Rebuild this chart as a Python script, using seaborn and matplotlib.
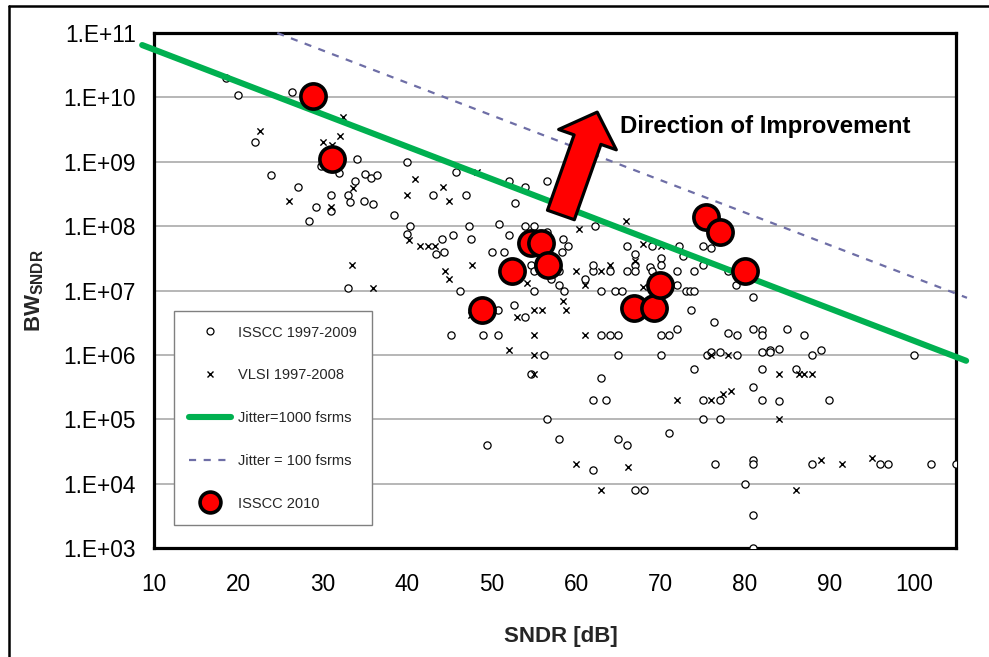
import numpy as np
import pandas as pd
import matplotlib
matplotlib.use("Agg")
import matplotlib.pyplot as plt
import seaborn as sns
from matplotlib.lines import Line2D
from matplotlib.ticker import FixedLocator, FuncFormatter, NullLocator

# ---------------- data ----------------
isscc_sndr = [18.5, 20.0, 26.4, 22.0, 34.0, 29.8, 31.9, 23.8, 35.0, 35.7, 36.4, 33.8, 27.0, 33.0, 31.0,
              33.2, 34.9, 36.0, 29.2, 31.0, 28.4, 38.4, 40.0, 40.3, 40.0, 33.0, 43.0, 46.9, 45.8, 43.4,
              44.1, 44.3, 45.4, 46.3, 47.3, 47.5, 50.0, 50.9, 50.8, 45.2, 49.0, 50.8, 49.4, 52.0, 54.0,
              56.5, 52.8, 54.0, 55.0, 52.0, 56.5, 58.4, 59.0, 58.3, 51.4, 62.2, 54.6, 55.0, 57.0, 58.0,
              58.6, 58.0, 55.0, 61.0, 62.0, 64.0, 62.0, 63.0, 64.6, 65.4, 66.0, 67.0, 67.0, 66.0, 67.0,
              69.0, 68.8, 69.0, 70.0, 70.0, 72.0, 72.0, 72.2, 72.7, 73.0, 73.5, 74.0, 74.0, 75.0, 75.0,
              76.0, 78.9, 81.0, 78.0, 73.6, 76.3, 52.6, 54.0, 72.0, 70.0, 71.0, 78.0, 79.0, 81.0, 82.0,
              82.0, 85.0, 87.0, 75.5, 76.0, 77.0, 79.0, 82.0, 83.0, 83.0, 84.0, 88.0, 89.0, 100.0, 74.0,
              82.0, 86.0, 81.0, 75.0, 77.0, 82.0, 84.0, 90.0, 75.0, 77.0, 76.5, 81.0, 81.0, 88.0, 96.0,
              97.0, 102.0, 105.0, 80.0, 81.0, 81.0, 56.2, 54.6, 63.0, 64.0, 65.0, 65.0, 70.0, 63.0, 62.0,
              63.5, 56.5, 71.0, 58.0, 65.0, 66.0, 62.0, 67.0, 68.0]
isscc_bw = [2.0e10, 1.1e10, 1.2e10, 2.0e9, 1.1e9, 8.5e8, 6.6e8, 6.3e8, 6.5e8, 5.5e8, 6.3e8, 5.0e8, 4.0e8, 3.0e8, 3.0e8,
            2.4e8, 2.5e8, 2.2e8, 2.0e8, 1.7e8, 1.2e8, 1.5e8, 1.0e9, 1.0e8, 7.5e7, 1.1e7, 3.0e8, 3.0e8, 7.0e8, 3.7e7,
            6.2e7, 4.0e7, 7.4e7, 1.0e7, 1.0e8, 6.2e7, 3.9e7, 1.07e8, 5.0e6, 2.0e6, 2.0e6, 2.0e6, 4.0e4, 5.0e8, 4.0e8,
            5.0e8, 2.3e8, 1.0e8, 1.0e8, 7.4e7, 8.0e7, 6.3e7, 5.0e7, 4.0e7, 4.0e7, 1.0e8, 2.5e7, 2.0e7, 1.5e7, 1.2e7,
            1.0e7, 2.0e7, 1.0e7, 1.5e7, 2.0e7, 2.0e7, 2.5e7, 1.0e7, 1.0e7, 1.0e7, 5.0e7, 3.7e7, 2.5e7, 2.0e7, 2.0e7,
            5.0e7, 2.3e7, 2.0e7, 3.2e7, 2.5e7, 2.0e7, 1.2e7, 5.0e7, 3.4e7, 1.0e7, 1.0e7, 1.0e7, 2.0e7, 2.5e7, 5.0e7,
            4.5e7, 1.2e7, 8.0e6, 2.0e7, 5.0e6, 3.2e6, 5.9e6, 3.9e6, 2.5e6, 2.0e6, 2.0e6, 2.2e6, 2.0e6, 2.5e6, 2.4e6,
            2.0e6, 2.5e6, 2.0e6, 1.0e6, 1.1e6, 1.1e6, 1.0e6, 1.1e6, 1.2e6, 1.1e6, 1.25e6, 1.0e6, 1.2e6, 1.0e6, 6.0e5,
            6.0e5, 6.0e5, 3.2e5, 2.0e5, 2.0e5, 2.0e5, 1.9e5, 2.0e5, 1.0e5, 1.0e5, 2.0e4, 2.35e4, 2.0e4, 2.0e4, 2.0e4,
            2.0e4, 2.0e4, 2.0e4, 1.0e4, 3.2e3, 1.0e3, 1.0e6, 5.0e5, 2.0e6, 2.0e6, 2.0e6, 1.0e6, 1.0e6, 4.3e5, 2.0e5,
            2.0e5, 1.0e5, 6.2e4, 5.0e4, 5.0e4, 4.0e4, 1.6e4, 8.0e3, 8.0e3]

vlsi_sndr = [32.4, 22.5, 32.0, 30.0, 31.1, 33.6, 26.0, 31.0, 40.9, 40.0, 40.2, 41.5, 42.4, 43.3, 33.5,
             36.0, 44.2, 45.0, 48.3, 44.5, 45.0, 47.7, 47.5, 60.4, 65.9, 54.2, 60.0, 61.0, 63.0, 64.0,
             67.0, 67.9, 70.0, 67.9, 58.5, 58.8, 53.0, 55.0, 56.0, 55.0, 52.0, 55.0, 55.0, 61.0, 72.0,
             60.0, 66.1, 63.0, 76.0, 78.0, 84.0, 86.4, 87.0, 88.0, 77.4, 78.4, 76.0, 84.0, 89.0, 91.5,
             95.0, 86.0]
vlsi_bw = [5.0e9, 3.0e9, 2.5e9, 2.0e9, 1.8e9, 3.9e8, 2.5e8, 2.0e8, 5.4e8, 3.0e8, 6.0e7, 5.0e7, 5.0e7, 5.0e7, 2.5e7,
           1.1e7, 4.0e8, 2.5e8, 7.0e8, 2.0e7, 1.5e7, 2.5e7, 4.2e6, 9.0e7, 1.2e8, 1.3e7, 2.0e7, 1.2e7, 2.0e7, 2.5e7,
           2.9e7, 5.2e7, 5.0e7, 1.15e7, 6.9e6, 5.0e6, 3.9e6, 5.0e6, 5.0e6, 2.0e6, 1.2e6, 1.0e6, 5.0e5, 2.0e6, 2.0e5,
           2.0e4, 1.8e4, 8.0e3, 1.0e6, 1.0e6, 5.0e5, 5.0e5, 5.0e5, 5.0e5, 2.5e5, 2.7e5, 2.0e5, 1.0e5, 2.35e4, 2.0e4,
           2.5e4, 8.0e3]

isscc2010_sndr = [28.8, 31.1, 48.8, 52.4, 54.6, 55.8, 56.7, 66.8, 69.2, 69.9, 75.4, 77.0, 80.0]
isscc2010_bw = [1.05e10, 1.1e9, 5.0e6, 2.0e7, 5.4e7, 5.5e7, 2.5e7, 5.4e6, 5.4e6, 1.2e7, 1.4e8, 8.0e7, 2.0e7]

jitter1000_sndr = [8.6, 106.2]
jitter1000_bw = [6.5e10, 8.1e5]
jitter100_sndr = [24.6, 106.3]
jitter100_bw = [1.0e11, 7.7e6]

x_ticks = [10, 20, 30, 40, 50, 60, 70, 80, 90, 100]
y_ticks = [1e3, 1e4, 1e5, 1e6, 1e7, 1e8, 1e9, 1e10, 1e11]

labels = ["ISSCC 1997-2009", "VLSI 1997-2008", "Jitter=1000 fsrms", "Jitter = 100 fsrms", "ISSCC 2010"]

# ---------------- style ----------------
sns.set_style("white")
plt.rcParams["font.family"] = ["Liberation Sans", "DejaVu Sans"]
plt.rcParams["mathtext.fontset"] = "custom"
plt.rcParams["mathtext.bf"] = "Liberation Sans:bold"
plt.rcParams["mathtext.rm"] = "Liberation Sans"

W, H = 989, 657
fig = plt.figure(figsize=(W / 100, H / 100), dpi=100)
ax = fig.add_axes([154 / W, 1 - 548 / H, 802 / W, 515 / H])

df_isscc = pd.DataFrame({"sndr": isscc_sndr, "bw": isscc_bw})
df_vlsi = pd.DataFrame({"sndr": vlsi_sndr, "bw": vlsi_bw})
df_new = pd.DataFrame({"sndr": isscc2010_sndr, "bw": isscc2010_bw})
df_j1000 = pd.DataFrame({"sndr": jitter1000_sndr, "bw": jitter1000_bw})
df_j100 = pd.DataFrame({"sndr": jitter100_sndr, "bw": jitter100_bw})

green = "#00b050"
dash_col = "#6e6ea6"

sns.scatterplot(data=df_isscc, x="sndr", y="bw", marker="o", s=27, color="white",
                edgecolor="black", linewidth=0.9, ax=ax, zorder=3, legend=False)
sns.scatterplot(data=df_vlsi, x="sndr", y="bw", marker="x", s=20, color="black",
                linewidth=1.0, ax=ax, zorder=3, legend=False)
sns.lineplot(data=df_j1000, x="sndr", y="bw", color=green, linewidth=4.4, ax=ax,
             zorder=4, legend=False, estimator=None, sort=False)
ax.lines[-1].set_clip_on(False)
sns.lineplot(data=df_j100, x="sndr", y="bw", color=dash_col, linewidth=1.6, ax=ax,
             zorder=4, legend=False, estimator=None, sort=False)
ax.lines[-1].set_dashes((3.2, 3.4))
ax.lines[-1].set_clip_on(False)
sns.scatterplot(data=df_new, x="sndr", y="bw", marker="o", s=330, color="#ff0000",
                edgecolor="black", linewidth=2.6, ax=ax, zorder=6, legend=False)

# ---------------- axes ----------------
ax.set_yscale("log")
ax.set_xlim(10, 105)
ax.set_ylim(1e3, 1e11)
ax.xaxis.set_major_locator(FixedLocator(x_ticks))
ax.yaxis.set_major_locator(FixedLocator(y_ticks))
ax.yaxis.set_minor_locator(NullLocator())
ax.xaxis.set_minor_locator(NullLocator())
ax.yaxis.set_major_formatter(FuncFormatter(lambda v, p: "1.E+%02d" % int(round(np.log10(v)))))
ax.xaxis.set_major_formatter(FuncFormatter(lambda v, p: "%d" % v))
ax.tick_params(axis="both", which="major", direction="out", length=5.5, width=1.3,
               color="black", labelsize=16.3, labelcolor="black")
ax.tick_params(axis="y", pad=7.5)
ax.tick_params(axis="x", pad=12.5)
ax.grid(False)
ax.yaxis.grid(True, color="#a3a3a3", linewidth=1.1)
ax.set_axisbelow(True)
for sp in ax.spines.values():
    sp.set_color("black")
    sp.set_linewidth(2.3)
    sp.set_visible(True)

ax.set_xlabel("SNDR [dB]", fontsize=16, fontweight="bold")
ax.xaxis.set_label_coords((561 - 154) / 802, (548 - 626) / 515)
ax.set_ylabel(r"$\mathbf{BW}_{\mathbf{SNDR}}$", fontsize=16)
ax.yaxis.set_label_coords((46 - 154) / 802, 0.5)

# ---------------- annotation ----------------
ax.annotate("", xy=(62.5, 5.9e9), xytext=(58.2, 1.49e8),
            arrowprops=dict(arrowstyle="simple,head_length=2.1,head_width=4.4,tail_width=2.05",
                            fc="#ff0000", ec="black", lw=2.3, shrinkA=0, shrinkB=0,
                            mutation_scale=10),
            zorder=7)
fig.text(620 / W, 1 - 133 / H, "Direction of Improvement", fontsize=17.3, fontweight="bold",
         ha="left", va="baseline", color="black")

# ---------------- legend ----------------
handles = [
    Line2D([], [], linestyle="none", marker="o", markersize=5, markerfacecolor="white",
           markeredgecolor="black", markeredgewidth=0.9),
    Line2D([], [], linestyle="none", marker="x", markersize=4.5, color="black", markeredgewidth=1.0),
    Line2D([], [], color=green, linewidth=4.4),
    Line2D([], [], color=dash_col, linewidth=1.6, dashes=(3.2, 3.4)),
    Line2D([], [], linestyle="none", marker="o", markersize=15, markerfacecolor="#ff0000",
           markeredgecolor="black", markeredgewidth=2.6),
]
leg = ax.legend(handles, labels, loc="upper left",
                bbox_to_anchor=((174 - 154) / 802, 1 - (311 - 33) / 515),
                borderaxespad=0, fontsize=10.5, frameon=True, fancybox=False, shadow=False,
                framealpha=1, edgecolor="#808080", borderpad=1.0, labelspacing=1.97,
                handlelength=2.9, handletextpad=0.5, handleheight=0.7)
leg.get_frame().set_linewidth(1.0)
leg.set_zorder(8)

# ---------------- outer frame ----------------
fig.add_artist(Line2D([8.5 / W, 8.5 / W], [0, 1 - 5.5 / H], transform=fig.transFigure,
                      color="black", linewidth=1.8))
fig.add_artist(Line2D([8.5 / W, 1], [1 - 5.5 / H, 1 - 5.5 / H], transform=fig.transFigure,
                      color="black", linewidth=1.8))

fig.savefig("out.png", dpi=100)
